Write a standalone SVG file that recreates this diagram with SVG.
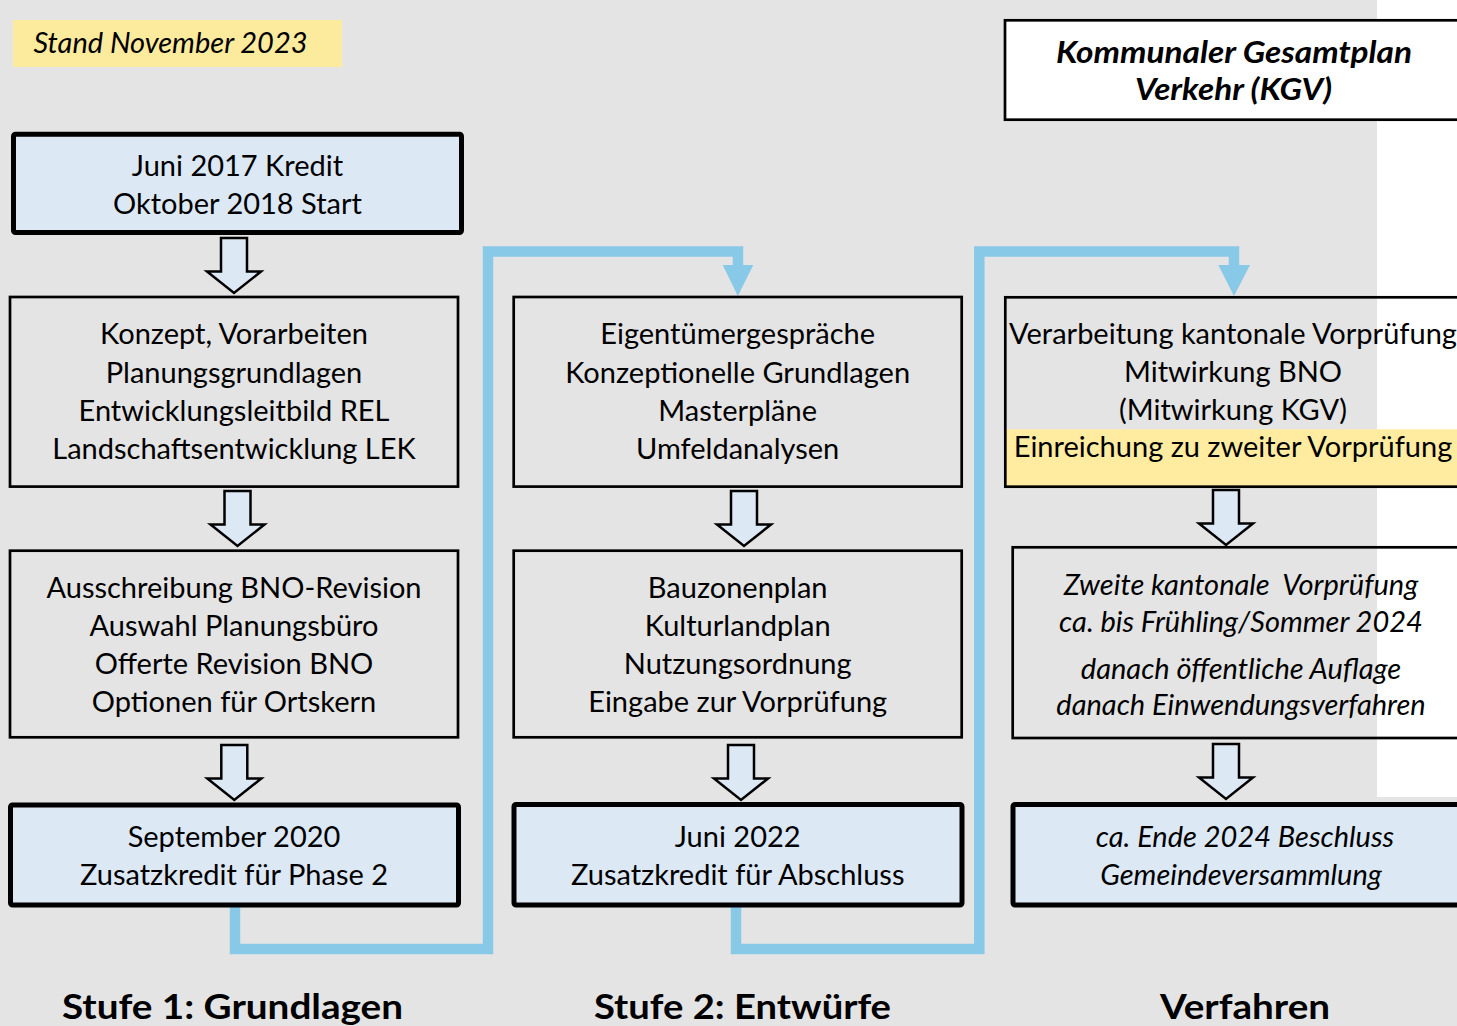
<svg xmlns="http://www.w3.org/2000/svg" width="1457" height="1026" viewBox="0 0 1457 1026">
<style>
text{font-family:Lato,"Liberation Sans",sans-serif;fill:#000;text-anchor:middle}
.t{font-size:29px}
.i{font-size:29px;font-style:italic}
.kgv{font-size:30px;font-style:italic;font-weight:bold}
.h{font-size:35px;font-weight:bold}
.thin{fill:none;stroke:#000;stroke-width:2.7}
.thick{fill:#dde8f5;stroke:#000;stroke-width:5}
.blk{fill:#dde8f5;stroke:#000;stroke-width:2.5;stroke-linejoin:miter}
.conn{fill:none;stroke:#88c9e7;stroke-width:10.5;stroke-linejoin:miter;stroke-linecap:butt}
.head{fill:#88c9e7}
</style>
<defs>
<path id="ba" d="M-13,0 H13 V33.5 H27 L0,55 L-27,33.5 H-13 Z"/>
</defs>
<rect x="0" y="0" width="1457" height="1026" fill="#e4e4e4"/>
<rect x="1377" y="0" width="80" height="797" fill="#ffffff"/>

<g id="stand">
<rect x="13" y="20" width="329" height="47" fill="#fdeb9d"/>
<text class="i" x="170.5" y="52.5">Stand November 2023</text>
</g>

<g id="kgv">
<rect x="1005" y="20.3" width="460" height="99.4" fill="#ffffff" stroke="#000" stroke-width="2.7"/>
<text class="kgv" x="1234" y="63" textLength="356" lengthAdjust="spacingAndGlyphs">Kommunaler Gesamtplan</text>
<text class="kgv" x="1233.5" y="100" textLength="197" lengthAdjust="spacingAndGlyphs">Verkehr (KGV)</text>
</g>

<g id="connectors">
<polyline class="conn" points="235,907 235,949 488,949 488,251.5 738,251.5 738,266"/>
<polygon class="head" points="722.7,265 753.3,265 737.8,296"/>
<polyline class="conn" points="736,907 736,949 979.3,949 979.3,251.5 1234,251.5 1234,266"/>
<polygon class="head" points="1218.3,265 1250,265 1234,296"/>
<use href="#ba" class="blk" x="234" y="238"/>
<use href="#ba" class="blk" x="237.5" y="491"/>
<use href="#ba" class="blk" x="234.3" y="745"/>
<use href="#ba" class="blk" x="744" y="491"/>
<use href="#ba" class="blk" x="741" y="745"/>
<use href="#ba" class="blk" x="1226" y="490"/>
<use href="#ba" class="blk" x="1226" y="744"/>
</g>

<g id="n1">
<rect class="thick" x="13.5" y="134.2" width="448" height="98.3" rx="2"/>
<text class="t" x="237.5" y="175.5">Juni 2017 Kredit</text>
<text class="t" x="237.5" y="214">Oktober 2018 Start</text>
</g>
<g id="n2">
<rect class="thin" x="10" y="297" width="448" height="189.6"/>
<text class="t" x="234" y="344">Konzept, Vorarbeiten</text>
<text class="t" x="234" y="382.7">Planungsgrundlagen</text>
<text class="t" x="234" y="420.7">Entwicklungsleitbild REL</text>
<text class="t" x="234" y="458.7">Landschaftsentwicklung LEK</text>
</g>
<g id="n3">
<rect class="thin" x="10" y="550.7" width="448" height="186.6"/>
<text class="t" x="234" y="597.7">Ausschreibung BNO-Revision</text>
<text class="t" x="234" y="636.4">Auswahl Planungsbüro</text>
<text class="t" x="234" y="674.4">Offerte Revision BNO</text>
<text class="t" x="234" y="712.4">Optionen für Ortskern</text>
</g>
<g id="n4">
<rect class="thick" x="10.5" y="805" width="448" height="100" rx="2"/>
<text class="t" x="234" y="846.5">September 2020</text>
<text class="t" x="234" y="884.8">Zusatzkredit für Phase 2</text>
</g>

<g id="n5">
<rect class="thin" x="513.7" y="297" width="448" height="189.6"/>
<text class="t" x="737.7" y="344">Eigentümergespräche</text>
<text class="t" x="737.7" y="382.7">Konzeptionelle Grundlagen</text>
<text class="t" x="737.7" y="420.7">Masterpläne</text>
<text class="t" x="737.7" y="458.7">Umfeldanalysen</text>
</g>
<g id="n6">
<rect class="thin" x="513.7" y="550.7" width="448" height="186.6"/>
<text class="t" x="737.7" y="597.7">Bauzonenplan</text>
<text class="t" x="737.7" y="636.4">Kulturlandplan</text>
<text class="t" x="737.7" y="674.4">Nutzungsordnung</text>
<text class="t" x="737.7" y="712.4">Eingabe zur Vorprüfung</text>
</g>
<g id="n7">
<rect class="thick" x="514" y="804.5" width="448" height="100.5" rx="2"/>
<text class="t" x="737.7" y="846.5">Juni 2022</text>
<text class="t" x="737.7" y="884.8">Zusatzkredit für Abschluss</text>
</g>

<g id="n8">
<rect x="1005.3" y="429.3" width="460" height="57.4" fill="#ffeca0"/>
<rect class="thin" x="1005.3" y="297.3" width="460" height="189.4"/>
<text class="t" x="1233" y="343.7">Verarbeitung kantonale Vorprüfung</text>
<text class="t" x="1233" y="382">Mitwirkung BNO</text>
<text class="t" x="1233" y="420.4">(Mitwirkung KGV)</text>
<text class="t" x="1233" y="457">Einreichung zu zweiter Vorprüfung</text>
</g>
<g id="n9">
<rect class="thin" x="1012.7" y="547.3" width="460" height="190.7"/>
<text class="i" x="1241" y="595.4" style="white-space:pre">Zweite kantonale  Vorprüfung</text>
<text class="i" x="1241" y="632">ca. bis Frühling/Sommer 2024</text>
<text class="i" x="1241" y="678.7">danach öffentliche Auflage</text>
<text class="i" x="1241" y="715.4">danach Einwendungsverfahren</text>
</g>
<g id="n10">
<rect class="thick" x="1013" y="804.5" width="460" height="100.5" rx="2"/>
<text class="i" x="1245" y="846.5">ca. Ende 2024 Beschluss</text>
<text class="i" x="1241" y="884.8">Gemeindeversammlung</text>
</g>

<g id="titles">
<text class="h" x="232.5" y="1018.5" textLength="341" lengthAdjust="spacingAndGlyphs">Stufe 1: Grundlagen</text>
<text class="h" x="742.5" y="1018.5" textLength="297" lengthAdjust="spacingAndGlyphs">Stufe 2: Entwürfe</text>
<text class="h" x="1245" y="1018.5" textLength="170" lengthAdjust="spacingAndGlyphs">Verfahren</text>
</g>
</svg>
